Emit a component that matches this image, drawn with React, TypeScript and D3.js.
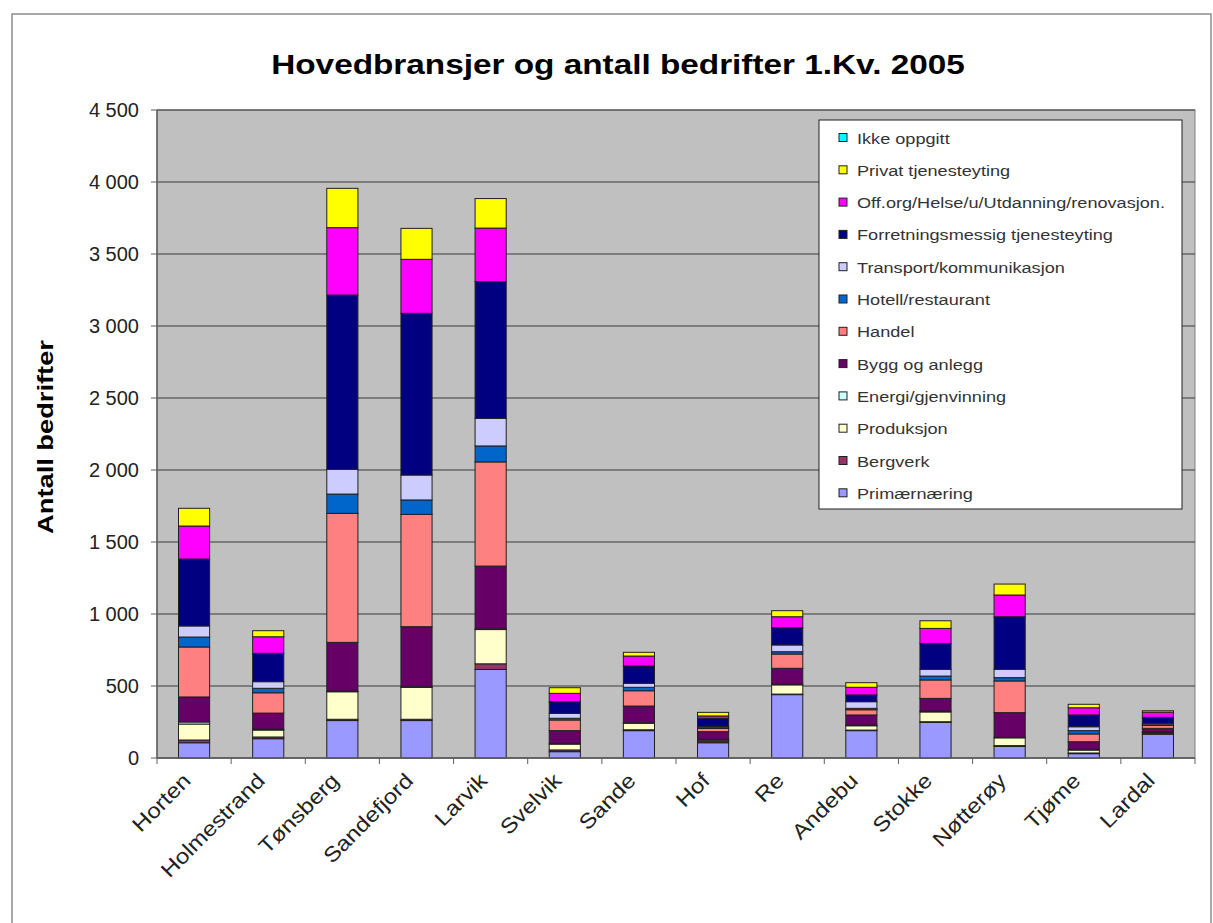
import * as d3 from 'd3'

const W = 1213
const H = 923

const kommuner = ['Horten', 'Holmestrand', 'Tønsberg', 'Sandefjord', 'Larvik', 'Svelvik', 'Sande', 'Hof', 'Re', 'Andebu', 'Stokke', 'Nøtterøy', 'Tjøme', 'Lardal']

// bottom to top stacking order
const bransjer = ['Primærnæring', 'Bergverk', 'Produksjon', 'Energi/gjenvinning', 'Bygg og anlegg', 'Handel', 'Hotell/restaurant', 'Transport/kommunikasjon', 'Forretningsmessig tjenesteyting', 'Off.org/Helse/u/Utdanning/renovasjon.', 'Privat tjenesteyting', 'Ikke oppgitt']
const farger = ['#9999ff', '#993366', '#ffffcc', '#ccffff', '#660066', '#ff8080', '#0066cc', '#ccccff', '#000080', '#ff00ff', '#ffff00', '#00ffff']

const primaer = [106, 134, 260, 260, 615, 44, 190, 106, 440, 190, 248, 80, 30, 165]
const bergverk = [19, 12, 9, 9, 39, 12, 6, 12, 4, 4, 4, 6, 5, 8]
const produksjon = [111, 48, 191, 221, 238, 40, 45, 8, 64, 30, 68, 54, 20, 4]
const energi = [14, 7, 5, 5, 5, 6, 4, 4, 4, 5, 6, 4, 5, 3]
const bygg = [174, 111, 338, 417, 436, 88, 116, 53, 111, 70, 88, 171, 53, 26]
const handel = [347, 141, 896, 780, 723, 74, 106, 22, 99, 36, 128, 220, 54, 20]
const hotell = [69, 31, 134, 100, 111, 12, 24, 4, 16, 10, 27, 23, 23, 5]
const transport = [77, 46, 172, 173, 192, 34, 28, 8, 47, 46, 47, 58, 27, 10]
const forretning = [465, 197, 1210, 1123, 949, 81, 120, 59, 120, 47, 180, 365, 82, 41]
const offentlig = [229, 115, 468, 375, 372, 58, 69, 16, 76, 53, 104, 151, 50, 36]
const privat = [123, 42, 273, 215, 205, 39, 26, 25, 42, 32, 53, 76, 24, 10]
const ikkeOppgitt = [0, 0, 0, 0, 0, 0, 0, 0, 0, 0, 0, 0, 0, 0]

const serier = [primaer, bergverk, produksjon, energi, bygg, handel, hotell, transport, forretning, offentlig, privat, ikkeOppgitt]

const yTicks = [0, 500, 1000, 1500, 2000, 2500, 3000, 3500, 4000, 4500]

const plot = { left: 157, right: 1195, top: 110, bottom: 758 }
const font = '"Liberation Sans", Arial, sans-serif'
// the source renders its text noticeably wider than Liberation Sans
const stretch = 1.19

export default function App() {
  const rows = kommuner.map((k, i) => {
    const r: Record<string, number | string> = { kommune: k }
    bransjer.forEach((b, j) => { r[b] = serier[j][i] })
    return r
  })
  const stacked = d3.stack<Record<string, number | string>>().keys(bransjer)(rows as any)

  const x = d3.scaleBand().domain(kommuner).range([plot.left, plot.right]).paddingInner(0.58).paddingOuter(0.29)
  const y = d3.scaleLinear().domain([0, 4500]).range([plot.bottom, plot.top])
  const fmt = (v: number) => d3.format(',')(v).replace(/,/g, ' ')
  const step = x.step()
  const legendRows = bransjer.map((b, i) => ({ b, c: farger[i] })).reverse()

  return (
    <svg width={W} height={H} style={{ position: 'absolute', left: 0, top: 0, background: '#fff' }} fontFamily={font}>
      <rect x={12} y={14} width={1199} height={920} fill="#fff" stroke="#8c8c8c" strokeWidth={1.5} />
      <text transform={`translate(618,74) scale(${stretch},1)`} textAnchor="middle" fontSize={28} fontWeight="bold" fill="#000">
        Hovedbransjer og antall bedrifter 1.Kv. 2005
      </text>

      {/* plot area */}
      <rect x={plot.left} y={plot.top} width={plot.right - plot.left} height={plot.bottom - plot.top} fill="#c0c0c0" stroke="#808080" />
      {yTicks.map(t => (
        <line key={t} x1={plot.left} x2={plot.right} y1={y(t)} y2={y(t)} stroke="#3a3a3a" strokeWidth={1} />
      ))}

      {/* bars */}
      {stacked.map((s, j) => (
        <g key={s.key} fill={farger[j]}>
          {s.map((d, i) => (
            <rect key={i} x={x(kommuner[i])} width={x.bandwidth()} y={y(d[1])} height={Math.max(0, y(d[0]) - y(d[1]))} stroke="#202020" strokeWidth={1} />
          ))}
        </g>
      ))}

      {/* y axis */}
      <line x1={plot.left} x2={plot.left} y1={plot.top} y2={plot.bottom} stroke="#606060" strokeWidth={1.5} />
      {yTicks.map(t => (
        <g key={t}>
          <line x1={plot.left - 6} x2={plot.left} y1={y(t)} y2={y(t)} stroke="#606060" />
          <text x={plot.left - 18} y={y(t) + 7} textAnchor="end" fontSize={20} fill="#222">{fmt(t)}</text>
        </g>
      ))}
      <text transform={`translate(53,437) rotate(-90) scale(1.24,1)`} textAnchor="middle" fontSize={22} fontWeight="bold" fill="#000">
        Antall bedrifter
      </text>

      {/* x axis */}
      <line x1={plot.left} x2={plot.right} y1={plot.bottom} y2={plot.bottom} stroke="#606060" strokeWidth={1.5} />
      {d3.range(kommuner.length + 1).map(i => (
        <line key={i} x1={plot.left + i * step} x2={plot.left + i * step} y1={plot.bottom} y2={plot.bottom + 6} stroke="#606060" />
      ))}
      {kommuner.map(k => {
        const cx = (x(k) ?? 0) + x.bandwidth() / 2
        return (
          <text key={k} transform={`translate(${cx - 2},${plot.bottom + 24}) rotate(-45) scale(1.15,1)`} textAnchor="end" fontSize={21} fill="#222">{k}</text>
        )
      })}

      {/* legend */}
      <rect x={819} y={120} width={363} height={389} fill="#fff" stroke="#202020" />
      {legendRows.map((r, i) => (
        <g key={r.b} transform={`translate(839,${138 + i * 32.3})`}>
          <rect x={0} y={-4.5} width={8} height={8} fill={r.c} stroke="#202020" />
          <text transform={`translate(18,5.5) scale(1.17,1)`} fontSize={15.5} fill="#333">{r.b}</text>
        </g>
      ))}
    </svg>
  )
}
